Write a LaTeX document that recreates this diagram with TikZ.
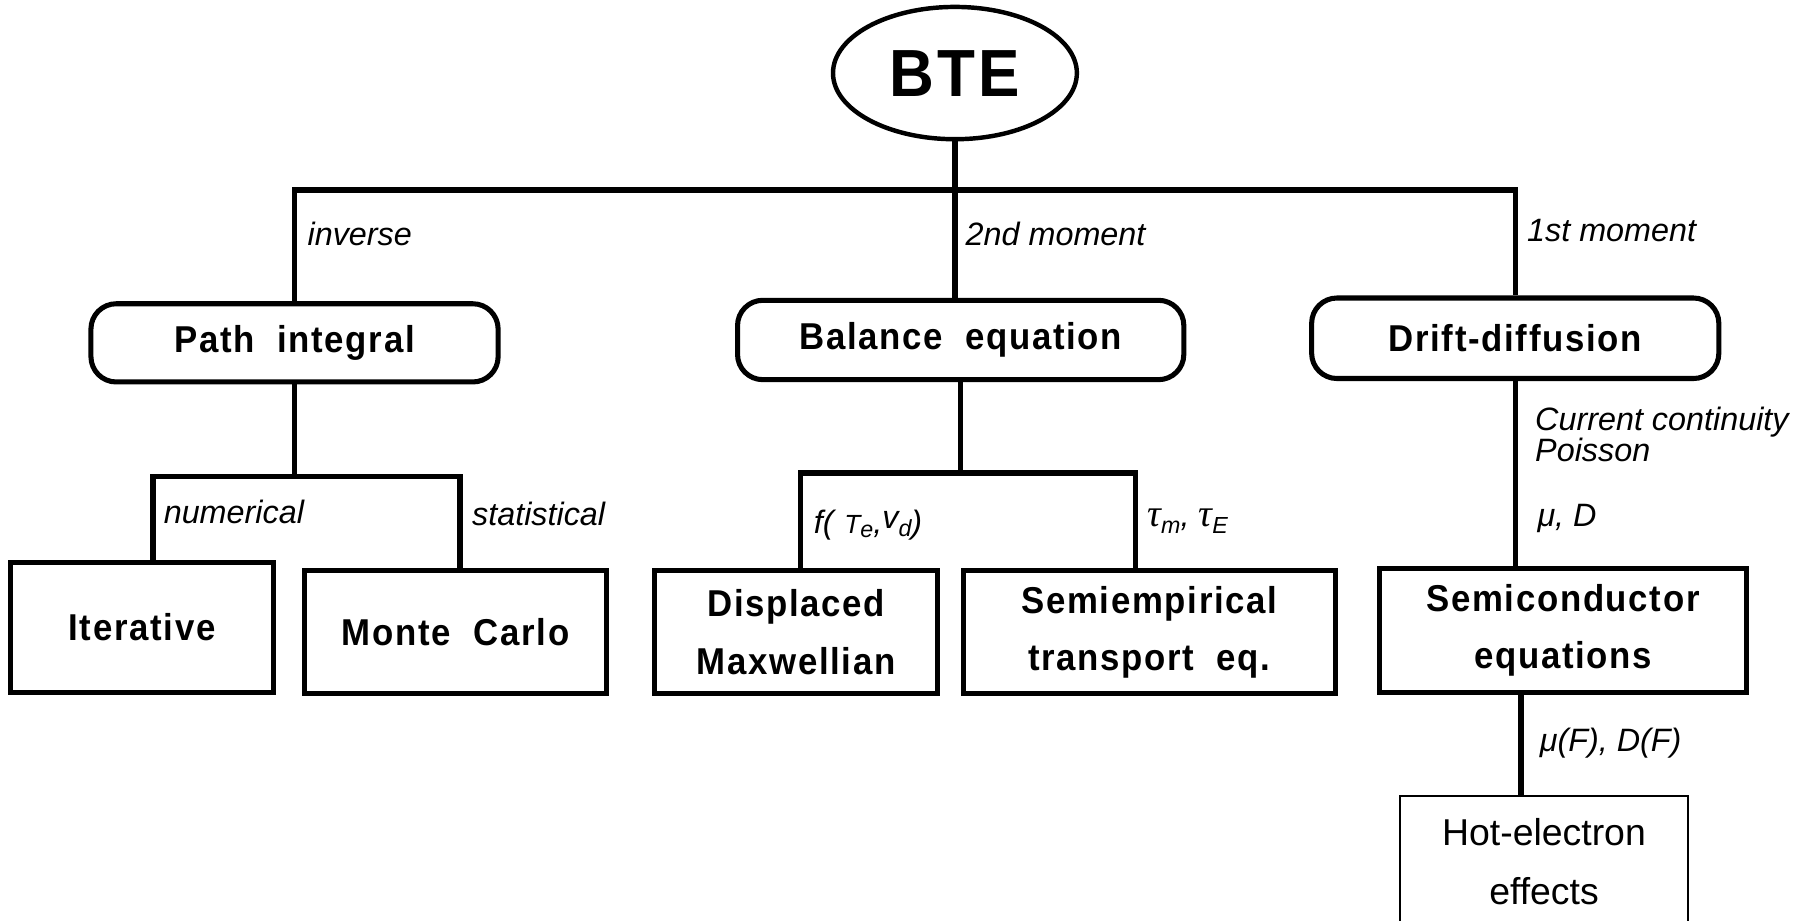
\documentclass[tikz,border=0pt]{standalone}
\usepackage{fontspec}
\setmainfont{Liberation Sans}
\newfontfamily\boxface{Liberation Sans}[LetterSpace=4.5, FakeStretch=0.93]
\newfontfamily\greekserif{Liberation Serif}
\usetikzlibrary{shapes.geometric}

% small lowered index in the label font
\newcommand{\lowsub}[2][3.3pt]{\raisebox{-#1}{\fontsize{11.5}{11.5}\selectfont #2}}
\newcommand{\tauit}{{\greekserif\itshape\fontsize{19}{19}\selectfont τ}}

\tikzset{
  wire/.style={line width=2.7pt, line join=miter},
  boxed/.style={draw, line width=2.5pt, align=center, inner sep=0pt,
    font=\boxface\bfseries\fontsize{18.5}{28.5}\selectfont},
  pill/.style={boxed, rounded corners=0.44cm},
  lbl/.style={inner sep=0pt, anchor=base west,
    font=\itshape\fontsize{16}{27}\selectfont},
}

\begin{document}
\begin{tikzpicture}[x=0.02cm,y=-0.02cm]
\clip (0,0) rectangle (1568,800.5);
\fill[white] (0,0) rectangle (1568,800.5);

% root
\node[draw, ellipse, line width=2.2pt, minimum width=4.24cm, minimum height=2.30cm,
  inner sep=0pt, font=\boxface\bfseries\fontsize{33}{38}\selectfont] (bte) at (830,63.5) {BTE};

% first level
\node[pill, minimum width=7.08cm, minimum height=1.36cm] (path) at (256,298) {Path\ \ integral};
\node[pill, minimum width=7.76cm, minimum height=1.38cm] (bal) at (835,295.5) {Balance\ \ equation};
\node[pill, minimum width=7.08cm, minimum height=1.40cm] (drift) at (1317,294) {Drift-diffusion};

% second level
\node[boxed, minimum width=4.58cm, minimum height=2.26cm] (iter) at (123.5,545.5) {Iterative};
\node[boxed, minimum width=5.24cm, minimum height=2.14cm] (mc) at (396,549.5) {Monte\ \ Carlo};
\node[boxed, minimum width=4.92cm, minimum height=2.14cm] (dm) at (692,549.5) {Displaced\\Maxwellian};
\node[boxed, minimum width=6.48cm, minimum height=2.14cm] (semi) at (999,549.5) {Semiempirical\\transport\ \ eq.};
\node[boxed, minimum width=6.38cm, minimum height=2.16cm] (sc) at (1358.5,548) {Semiconductor\\equations};

% third level
\node[draw, line width=1.2pt, minimum width=5.0cm, minimum height=2.28cm, align=center,
  inner sep=0pt, font=\fontsize{18.5}{29.5}\selectfont] (hot) at (1342,749) {Hot-electron\\effects};

% junction points
\coordinate (bus) at (830,165);
\coordinate (pl) at (133,414);
\coordinate (pr) at (400,414);
\coordinate (bl) at (696,411);
\coordinate (br) at (987,411);
\coordinate (hx) at (1322,650);

% connectors
\draw[wire] (bte.south) -- (bte.south |- bal.north);
\draw[wire] (path.north) |- (bus) -| (drift.north);
\draw[wire] (path.south) -- (path.south |- pl);
\draw[wire] (pl |- iter.north) -- (pl) -- (pr) -- (pr |- mc.north);
\draw[wire] (bal.south) -- (bal.south |- bl);
\draw[wire] (bl |- dm.north) -- (bl) -- (br) -- (br |- semi.north);
\draw[wire] (drift.south) -- (drift.south |- sc.north);
\draw[wire] (hx |- sc.south) -- (hx |- hot.north);

% connector labels
\node[lbl] (l1) at (267,213) {inverse};
\node[lbl] (l2) at (839,213) {2nd moment};
\node[lbl] (l3) at (1327,210) {1st moment};
\node[lbl] (l4) at (142,455) {numerical};
\node[lbl] (l5) at (410,457) {statistical};
\node[lbl] (l6) at (707,464) {f(\,\,{\fontsize{13}{13}\selectfont T}\lowsub[1.6pt]{e},\raisebox{2.5pt}{v}\lowsub[1.5pt]{d})};
\node[lbl] (l7) at (997,458) {\tauit\lowsub{m}, \tauit\lowsub{E}};
\node[lbl] (l8) at (1334,374) {Current continuity};
\node[lbl] (l9) at (1334,401) {Poisson};
\node[lbl] (l10) at (1336,458) {μ, D};
\node[lbl] (l11) at (1338,653) {μ(F), D(F)};
\end{tikzpicture}
\end{document}
